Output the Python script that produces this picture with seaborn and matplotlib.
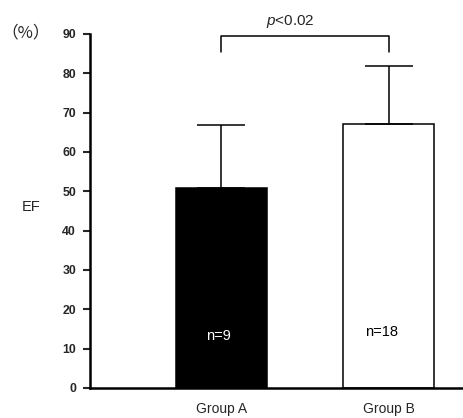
import numpy as np
import pandas as pd
import matplotlib
matplotlib.use("Agg")
import matplotlib.pyplot as plt
import seaborn as sns

# values
groups = ["Group A", "Group B"]
ef_mean = [50.8, 67.1]
ef_sd = [16.1, 14.8]
n_labels = ["n=9", "n=18"]
yticks = [0, 10, 20, 30, 40, 50, 60, 70, 80, 90]
p_text = r"$\it{p}$<0.02"

sns.set_style("white")
plt.rcParams["font.family"] = ["Liberation Sans", "DejaVu Sans"]
plt.rcParams["mathtext.fontset"] = "custom"
plt.rcParams["mathtext.it"] = "Liberation Sans:italic"
plt.rcParams["mathtext.rm"] = "Liberation Sans"

df = pd.DataFrame({"group": groups, "ef": ef_mean})

fig = plt.figure(figsize=(4.63, 4.18), dpi=100)
ax = fig.add_axes([90 / 463, 1 - 388 / 418, 1 - 90 / 463, (388 - 34) / 418])

sns.barplot(data=df, x="group", y="ef", hue="group", palette=["black", "white"],
            edgecolor="black", linewidth=1.1, width=0.545, legend=False, ax=ax)

# one-sided SD bars
ax.errorbar(x=[0, 1], y=ef_mean, yerr=[np.zeros(2), ef_sd], fmt="none",
            ecolor="black", elinewidth=1.1, capsize=17, capthick=1.1, zorder=1)

# significance bracket
ax.plot([0, 0, 1, 1], [85.4, 89.5, 89.5, 85.4], color="black", lw=1.1, clip_on=False)
ax.text(0.41, 91.0, p_text, ha="center", va="bottom", fontsize=11)

# n labels inside bars
ax.text(-0.02, 13.2, n_labels[0], ha="center", va="center", color="white",
        fontsize=10.5, fontweight="medium")
ax.text(0.96, 14.2, n_labels[1], ha="center", va="center", color="black",
        fontsize=10.5, fontweight="medium")

ax.set_xlim(-0.787, 1.446)
ax.set_ylim(0, 90)
ax.set_yticks(yticks)
ax.set_yticklabels([str(t) for t in yticks], fontsize=8.8, fontweight="bold")
ax.tick_params(axis="y", direction="out", length=5, width=1.5, left=True, pad=5)
ax.tick_params(axis="x", length=0, labelsize=10, pad=10)
ax.set_xlabel("")
ax.set_ylabel("")

sns.despine(ax=ax)
ax.spines["left"].set_linewidth(1.8)
ax.spines["bottom"].set_linewidth(1.8)
ax.spines["left"].set_color("black")
ax.spines["bottom"].set_color("black")

fig.text(26 / 463, 1 - 33 / 418, "（%）", ha="center", va="center", fontsize=12,
         family=["Noto Sans CJK JP", "DejaVu Sans"])
fig.text(31 / 463, 1 - 207 / 418, "EF", ha="center", va="center", fontsize=10.5)

fig.savefig("out.png", dpi=100)
